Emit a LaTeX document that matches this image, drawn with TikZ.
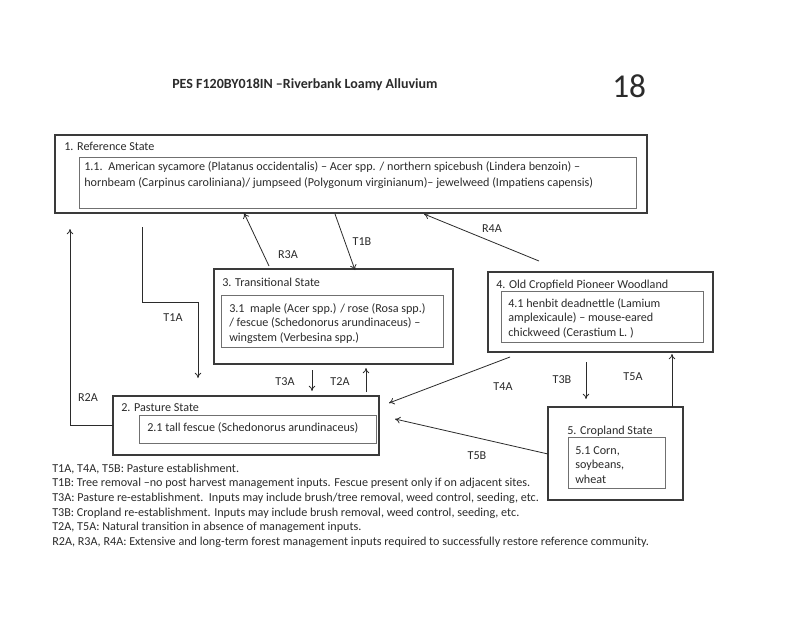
\documentclass[tikz,border=0pt]{standalone}
\usepackage{fontspec}
\setmainfont{Carlito}
\usetikzlibrary{fit,arrows.meta}
\definecolor{ink}{HTML}{2B2B2B}
\definecolor{boxline}{HTML}{3A3A3A}
\definecolor{innerline}{HTML}{707070}
\newcommand\lnstack[2]{\vtop{\baselineskip=#1\relax\lineskiplimit=-10pt #2}}
\hbadness=10000
\tikzset{
  outerbox/.style={draw=boxline, line width=1.2pt, inner sep=0pt},
  innerbox/.style={draw=innerline, line width=0.6pt, inner sep=0pt},
  txt/.style={font=\fontsize{9.1pt}{11pt}\selectfont, text=ink, inner sep=0pt, anchor=base west},
  lbl/.style={font=\fontsize{9.1pt}{11pt}\selectfont, text=ink, inner sep=0pt},
  conn/.style={draw=ink, line width=0.6pt, -{To[length=4pt,width=5pt]}},
}
\begin{document}
\begin{tikzpicture}[x=0.75pt,y=-0.75pt]
\useasboundingbox (0,0) rectangle (800,617);
\fill[white] (0,0) rectangle (800,617);

% title
\node[txt, font=\bfseries\fontsize{10.5pt}{12pt}\selectfont] (title) at (172,89) {PES F120BY018IN –Riverbank Loamy Alluvium};
\node[txt, font=\fontsize{25pt}{28pt}\selectfont, text=ink] (page) at (612,98) {18};

% 1. Reference state
\node[outerbox, fit={(55,135) (647,213)}] (ref) {};
\node[innerbox, fit={(79,157) (636,208)}] (refin) {};
\node[txt] (reft) at (64,151) {1. Reference State};
\node[txt] (refx) at (84,171) {\lnstack{12pt}{\hbox to 372pt{1.1.\ \ American sycamore (Platanus occidentalis) – Acer spp. / northern spicebush (Lindera benzoin) –}\hbox{hornbeam (Carpinus caroliniana)/ jumpseed (Polygonum virginianum)– jewelweed (Impatiens capensis)}}};

% 3. Transitional state
\node[outerbox, fit={(214,269) (453,364)}] (tra) {};
\node[innerbox, fit={(221,295) (443,347)}] (train) {};
\node[txt] (trat) at (222,286) {3. Transitional State};
\node[txt] (trax) at (229,312) {\lnstack{11pt}{\hbox{3.1 \ maple (Acer spp.) / rose (Rosa spp.)}\hbox{/ fescue (Schedonorus arundinaceus) –}\hbox{wingstem (Verbesina spp.)}}};

% 4. Old cropfield
\node[outerbox, fit={(488,272) (713,352)}] (old) {};
\node[innerbox, fit={(501,291) (703,342)}] (oldin) {};
\node[txt] (oldt) at (496,288) {4. Old Cropfield Pioneer Woodland};
\node[txt] (oldx) at (508,307) {\lnstack{11.2pt}{\hbox{4.1 henbit deadnettle (Lamium}\hbox{amplexicaule) – mouse-eared}\hbox{chickweed (Cerastium L. )}}};

% 2. Pasture state
\node[outerbox, fit={(113,396) (379,455)}] (pas) {};
\node[innerbox, fit={(139,415) (376,443)}] (pasin) {};
\node[txt] (past) at (121,411) {2. Pasture State};
\node[txt] (pasx) at (147,431) {2.1 tall fescue (Schedonorus arundinaceus)};

% 5. Cropland state
\node[outerbox, fit={(548,407) (683,500)}] (crop) {};
\node[innerbox, fit={(568,437) (665,488)}] (cropin) {};
\node[txt] (cropt) at (567,434) {5. Cropland State};
\node[txt] (cropx) at (575,454) {\lnstack{10.9pt}{\hbox{5.1 Corn,}\hbox{soybeans,}\hbox{wheat}}};

% connector end points
\coordinate (t1a0) at (142,227);
\coordinate (t1a1) at (142,302);
\coordinate (t1a2) at (198,302);
\coordinate (t1a3) at (198,378);
\coordinate (r2a0) at (113,425);
\coordinate (r2a1) at (70,425);
\coordinate (r2a2) at (70,229);
\coordinate (r3a0) at (269,266);
\coordinate (r3a1) at (244,213);
\coordinate (t1b0) at (335,214);
\coordinate (t1b1) at (355,270);
\coordinate (r4a0) at (539,261);
\coordinate (r4a1) at (424,214);
\coordinate (t3a0) at (312,370);
\coordinate (t3a1) at (312,391);
\coordinate (t2a0) at (366,392);
\coordinate (t2a1) at (366,368);
\coordinate (t4a0) at (510,357);
\coordinate (t4a1) at (389,403);
\coordinate (t3b0) at (586,362);
\coordinate (t3b1) at (586,399);
\coordinate (t5a0) at (672,407);
\coordinate (t5a1) at (672,354);
\coordinate (t5b0) at (548,454);
\coordinate (t5b1) at (395,419);

\draw[conn] (t1a0) -- (t1a1) -- (t1a2) -- (t1a3);
\draw[conn] (r2a0) -- (r2a1) -- (r2a2);
\draw[conn] (r3a0) -- (r3a1);
\draw[conn] (t1b0) -- (t1b1);
\draw[conn] (r4a0) -- (r4a1);
\draw[conn] (t3a0) -- (t3a1);
\draw[conn] (t2a0) -- (t2a1);
\draw[conn] (t4a0) -- (t4a1);
\draw[conn] (t3b0) -- (t3b1);
\draw[conn] (t5a0) -- (t5a1);
\draw[conn] (t5b0) -- (t5b1);

% connector labels
\node[lbl] (lt1a) at (173,318) {T1A};
\node[lbl] (lr2a) at (88,398) {R2A};
\node[lbl] (lr3a) at (288,255) {R3A};
\node[lbl] (lt1b) at (362,242) {T1B};
\node[lbl] (lr4a) at (492,229) {R4A};
\node[lbl] (lt3a) at (285,382) {T3A};
\node[lbl] (lt2a) at (340,382) {T2A};
\node[lbl] (lt4a) at (503,387) {T4A};
\node[lbl] (lt3b) at (562,380) {T3B};
\node[lbl] (lt5a) at (633,377) {T5A};
\node[lbl] (lt5b) at (477,456) {T5B};

% legend
\node[txt, font=\fontsize{9.1pt}{11pt}\selectfont] (legend) at (52,472) {\lnstack{11pt}{%
\hbox{T1A, T4A, T5B: Pasture establishment.}%
\hbox{T1B: Tree removal –no post harvest management inputs. Fescue present only if on adjacent sites.}%
\hbox{T3A: Pasture re-establishment.\ \ Inputs may include brush/tree removal, weed control, seeding, etc.}%
\hbox{T3B: Cropland re-establishment. Inputs may include brush removal, weed control, seeding, etc.}%
\hbox{T2A, T5A: Natural transition in absence of management inputs.}%
\hbox{R2A, R3A, R4A: Extensive and long-term forest management inputs required to successfully restore reference community.}}};
\end{tikzpicture}
\end{document}
